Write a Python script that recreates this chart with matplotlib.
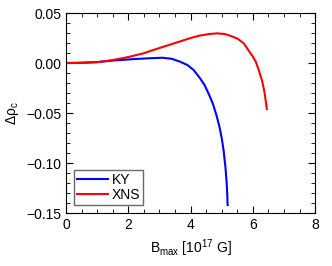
import matplotlib
matplotlib.use("Agg")
import matplotlib.pyplot as plt
from matplotlib.ticker import MultipleLocator

plt.rcParams["font.family"] = ["Liberation Sans", "DejaVu Sans"]
plt.rcParams["mathtext.fontset"] = "custom"
plt.rcParams["mathtext.rm"] = "Liberation Sans"
plt.rcParams["mathtext.it"] = "Liberation Sans"

# KY curve
ky_b = [0.0, 0.5, 1.0, 1.6, 2.2, 2.7, 3.1, 3.4, 3.65, 3.9, 4.1, 4.3, 4.45, 4.6,
        4.72, 4.84, 4.93, 5.0, 5.06, 5.12, 5.16, 5.18, 5.19]
ky_drho = [0.0, 0.0003, 0.001, 0.0027, 0.004, 0.0048, 0.0053, 0.0042, 0.0015,
           -0.002, -0.007, -0.015, -0.022, -0.032, -0.041, -0.053, -0.064,
           -0.075, -0.087, -0.104, -0.120, -0.132, -0.142]

# XNS curve
xns_b = [0.0, 0.5, 1.0, 1.5, 2.0, 2.5, 2.7, 3.2, 3.7, 4.0, 4.3, 4.6, 4.85, 5.1,
         5.3, 5.5, 5.7, 5.9, 6.0, 6.1, 6.2, 6.3, 6.38, 6.45]
xns_drho = [0.0, 0.0002, 0.0008, 0.003, 0.006, 0.0098, 0.012, 0.017, 0.022,
            0.025, 0.0275, 0.029, 0.0297, 0.029, 0.027, 0.0245, 0.020, 0.011,
            0.0065, 0.001, -0.008, -0.018, -0.030, -0.046]

fig = plt.figure(figsize=(3.32, 2.66), dpi=100)
ax = fig.add_axes([0.199, 0.199, 0.75, 0.752])

ax.plot(ky_b, ky_drho, color="#0000ff", lw=1.5, label="KY")
ax.plot(xns_b, xns_drho, color="#ff0000", lw=1.5, label="XNS")

ax.set_xlim(0, 8)
ax.set_ylim(-0.15, 0.05)
ax.xaxis.set_major_locator(MultipleLocator(2))
ax.xaxis.set_minor_locator(MultipleLocator(0.5))
ax.yaxis.set_major_locator(MultipleLocator(0.05))
ax.yaxis.set_minor_locator(MultipleLocator(0.01))
ax.yaxis.set_major_formatter(plt.FuncFormatter(lambda v, p: f"{v:.2f}".replace("-", "\u2212")))
ax.tick_params(which="both", direction="in", top=True, right=True, labelsize=10)
ax.tick_params(which="major", length=5)
ax.tick_params(which="minor", length=3)

ax.set_xlabel(r"B$_{\rm max}$ [10$^{17}$ G]", fontsize=10)
ax.set_ylabel(r"$\Delta\rho_{\rm c}$", fontsize=10)

leg = ax.legend(loc="lower left", fontsize=10, frameon=True, fancybox=False,
                handlelength=2.2, handletextpad=0.3, borderpad=0.2,
                labelspacing=0.1, borderaxespad=0.6)
leg.get_frame().set_edgecolor("#444444")
leg.get_frame().set_linewidth(1.0)

fig.savefig("out.png", dpi=100)
